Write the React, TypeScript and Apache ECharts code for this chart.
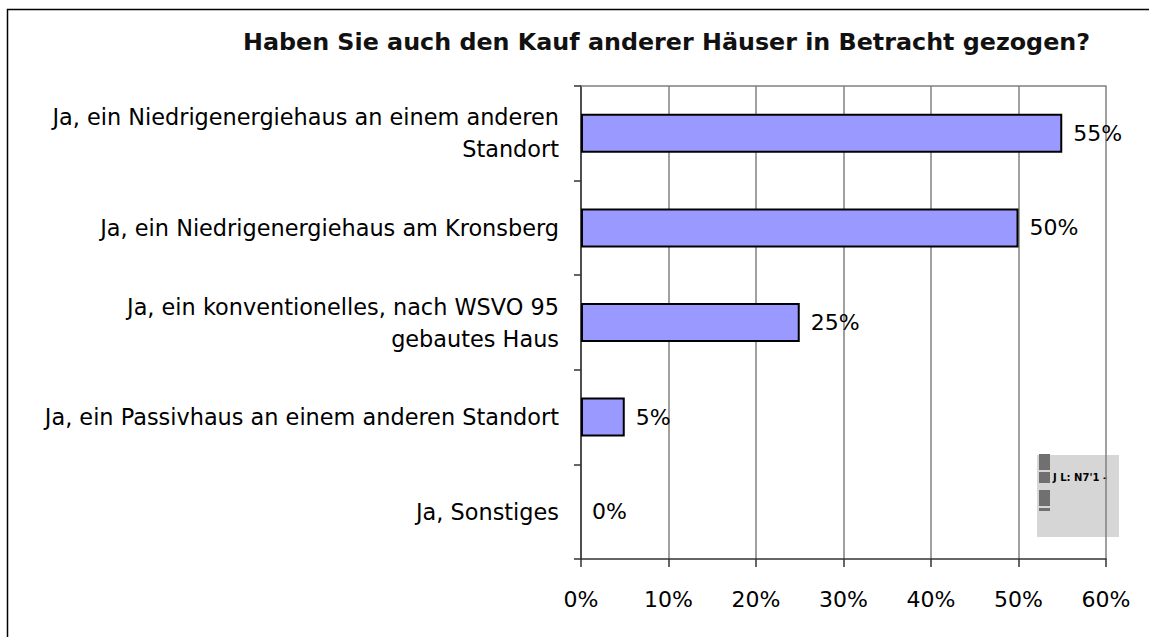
import React, { useEffect, useRef } from "react";
import * as echarts from "echarts";

const titleText = "Haben Sie auch den Kauf anderer Häuser in Betracht gezogen?";
const categories = [
  "Ja, ein Niedrigenergiehaus an einem anderen\nStandort",
  "Ja, ein Niedrigenergiehaus am Kronsberg",
  "Ja, ein konventionelles, nach WSVO 95\ngebautes Haus",
  "Ja, ein Passivhaus an einem anderen Standort",
  "Ja, Sonstiges",
];
const values = [55, 50, 25, 5, 0];
const axisMin = 0;
const axisMax = 60;
const axisStep = 10;
const legendGlitchText = "J L: N7'1 -";

const FONT = "DejaVu Sans";

export default function App() {
  const ref = useRef<HTMLDivElement>(null);
  useEffect(() => {
    if (!ref.current) return;
    const chart = echarts.init(ref.current, null, { renderer: "svg" });
    chart.setOption({
      animation: false,
      backgroundColor: "#ffffff",
      title: {
        text: titleText,
        left: 243,
        top: 30,
        padding: 0,
        textStyle: { fontFamily: FONT, fontSize: 23.8, fontWeight: "bold", color: "#111" },
      },
      grid: { left: 581, right: 43, top: 86, bottom: 78, containLabel: false },
      xAxis: [
        {
          type: "value",
          position: "bottom",
          min: axisMin,
          max: axisMax,
          interval: axisStep,
          axisLine: { show: true, lineStyle: { color: "#333", width: 1.5 } },
          axisTick: { show: true, length: 8, lineStyle: { color: "#333", width: 1.5 } },
          axisLabel: {
            formatter: "{value}%",
            margin: 29,
            fontFamily: FONT,
            fontSize: 22,
            color: "#000",
          },
          splitLine: { show: true, lineStyle: { color: "#808080", width: 1.5 } },
        },
        {
          type: "value",
          position: "top",
          min: axisMin,
          max: axisMax,
          interval: axisStep,
          axisLine: { show: true, lineStyle: { color: "#808080", width: 1.5 } },
          axisTick: { show: false },
          axisLabel: { show: false },
          splitLine: { show: false },
        },
      ],
      yAxis: {
        type: "category",
        inverse: true,
        data: categories,
        axisLine: { show: true, lineStyle: { color: "#333", width: 1.5 } },
        axisTick: { show: true, length: 7, lineStyle: { color: "#333", width: 1.5 } },
        axisLabel: {
          margin: 22,
          fontFamily: FONT,
          fontSize: 22.4,
          lineHeight: 32,
          color: "#000",
          align: "right",
        },
        splitLine: { show: false },
      },
      series: [
        {
          type: "bar",
          xAxisIndex: 0,
          data: values.map((v) => (v === 0 ? { value: v, itemStyle: { borderWidth: 0 } } : v)),
          barWidth: 39,
          itemStyle: { color: "#9999FF", borderColor: "#000", borderWidth: 2 },
          label: {
            show: true,
            position: "right",
            distance: 11,
            formatter: "{c}%",
            fontFamily: FONT,
            fontSize: 22,
            color: "#000",
          },
        },
      ],
      graphic: [
        {
          type: "rect",
          silent: true,
          shape: { x: 7.5, y: 9.5, width: 1300, height: 800 },
          style: { fill: "none", stroke: "#000", lineWidth: 1.5 },
        },
        {
          type: "group",
          silent: true,
          children: [
            { type: "rect", shape: { x: 1037, y: 455, width: 82, height: 82 }, style: { fill: "#D6D6D6" } },
            { type: "rect", shape: { x: 1039, y: 454, width: 11, height: 16 }, style: { fill: "#707070" } },
            { type: "rect", shape: { x: 1039, y: 472, width: 11, height: 11 }, style: { fill: "#707070" } },
            { type: "rect", shape: { x: 1039, y: 490, width: 11, height: 16 }, style: { fill: "#707070" } },
            { type: "rect", shape: { x: 1039, y: 508, width: 11, height: 3 }, style: { fill: "#707070" } },
            {
              type: "text",
              x: 1053,
              y: 477,
              style: {
                text: legendGlitchText,
                fontFamily: FONT,
                fontSize: 10,
                fontWeight: "bold",
                fill: "#000",
                textVerticalAlign: "middle",
              },
            },
          ],
        },
      ],
    });
    return () => chart.dispose();
  }, []);
  return (
    <div
      ref={ref}
      style={{ position: "absolute", left: 0, top: 0, width: 1149, height: 637 }}
    />
  );
}
